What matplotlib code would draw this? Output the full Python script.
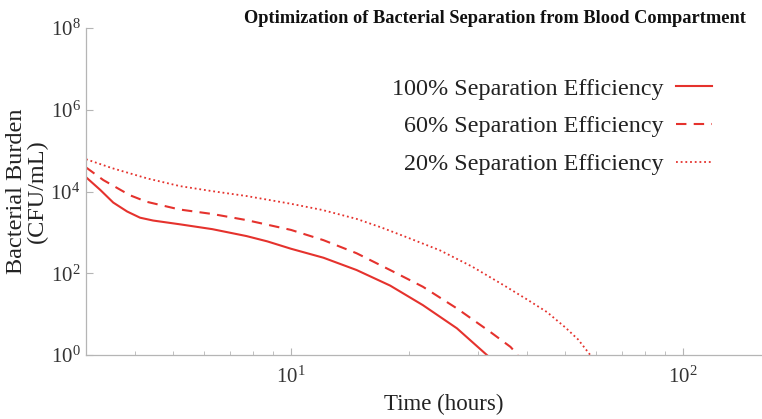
import matplotlib
matplotlib.use("Agg")
import matplotlib.pyplot as plt
from matplotlib.ticker import FixedLocator, LogLocator, NullLocator, NullFormatter

plt.rcParams['font.family'] = ['Liberation Serif', 'DejaVu Serif']
plt.rcParams['mathtext.default'] = 'regular'

# values (time in hours, burden in CFU/mL)
t_100 = [3.0, 3.26, 3.52, 3.82, 4.12, 4.45, 5.2, 6.3, 7.7, 8.7, 10, 12.1, 14.7, 17.9, 21.7, 26.5, 31.6]
y_100 = [22400, 11000, 5370, 3240, 2290, 1950, 1580, 1200, 813, 603, 398, 240, 120, 50, 16.6, 4.5, 1.0]

t_60 = [3.0, 3.32, 3.88, 4.28, 5.2, 6.3, 7.7, 10, 12.1, 14.7, 17.9, 21.7, 26.5, 32.2, 36.3, 37.9]
y_60 = [38900, 19100, 8130, 5620, 3630, 2820, 2000, 1150, 646, 309, 120, 46.8, 13.8, 3.7, 1.58, 1.0]

t_20 = [3.0, 3.5, 4.3, 5.2, 6.3, 7.7, 10, 12, 14.7, 17, 20, 24, 29, 35, 40, 45, 50, 54, 58]
y_20 = [61700, 37200, 20900, 13600, 10200, 7760, 5010, 3550, 2140, 1320, 724, 363, 145, 50,
        22.9, 11.2, 4.8, 2.4, 1.0]

labels = ['100% Separation Efficiency', '60% Separation Efficiency', '20% Separation Efficiency']
x_major = [10, 100]
y_major = [1, 1e2, 1e4, 1e6, 1e8]
red = '#e5322d'

fig = plt.figure(figsize=(7.62, 4.19), dpi=100)
ax = fig.add_axes([0.1129, 0.1527, 0.9383, 0.7804])

ax.plot(t_100, y_100, color=red, lw=1.5, ls='-', label=labels[0])
ax.plot(t_60, y_60, color=red, lw=1.5, ls=(0, (5, 3.5)), label=labels[1])
ax.plot(t_20, y_20, color=red, lw=1.3, ls=(0, (1, 1.6)), label=labels[2])

ax.set_xscale('log')
ax.set_yscale('log')
ax.set_xlim(3, 200)
ax.set_ylim(1, 1e8)
ax.xaxis.set_major_locator(FixedLocator(x_major))
ax.yaxis.set_major_locator(FixedLocator(y_major))
ax.yaxis.set_minor_locator(NullLocator())
ax.xaxis.set_minor_locator(LogLocator(base=10, subs=range(2, 10)))
ax.xaxis.set_minor_formatter(NullFormatter())

for side in ['top', 'right']:
    ax.spines[side].set_visible(False)
for side in ['left', 'bottom']:
    ax.spines[side].set_color('#b5b5b5')
    ax.spines[side].set_linewidth(0.9)
ax.tick_params(which='both', direction='in', colors='#b5b5b5', labelcolor='#333333',
               labelsize=15)
ax.tick_params(which='major', length=5)
ax.tick_params(which='minor', length=3)
ax.tick_params(axis='x', pad=8)
ax.tick_params(axis='y', pad=4)

ax.set_xlabel('Time (hours)', fontsize=16.5, color='#222222', labelpad=5)
ax.set_ylabel('Bacterial Burden\n(CFU/mL)', fontsize=17.5, color='#222222',
              linespacing=1.0)
ax.yaxis.set_label_coords(-0.053, 0.5)

fig.text(0.65, 0.957, 'Optimization of Bacterial Separation from Blood Compartment',
         ha='center', va='center', fontsize=13.2, fontweight='bold', color='#111111')

leg = ax.legend(loc='upper right', bbox_to_anchor=(712 / 762, 0.814),
                bbox_transform=fig.transFigure, frameon=False, markerfirst=False,
                fontsize=17.4, handlelength=1.5, handletextpad=0.5, labelspacing=0.65,
                borderpad=0, borderaxespad=0)
for txt in leg.get_texts():
    txt.set_color('#222222')

fig.savefig('out.png', dpi=100)
